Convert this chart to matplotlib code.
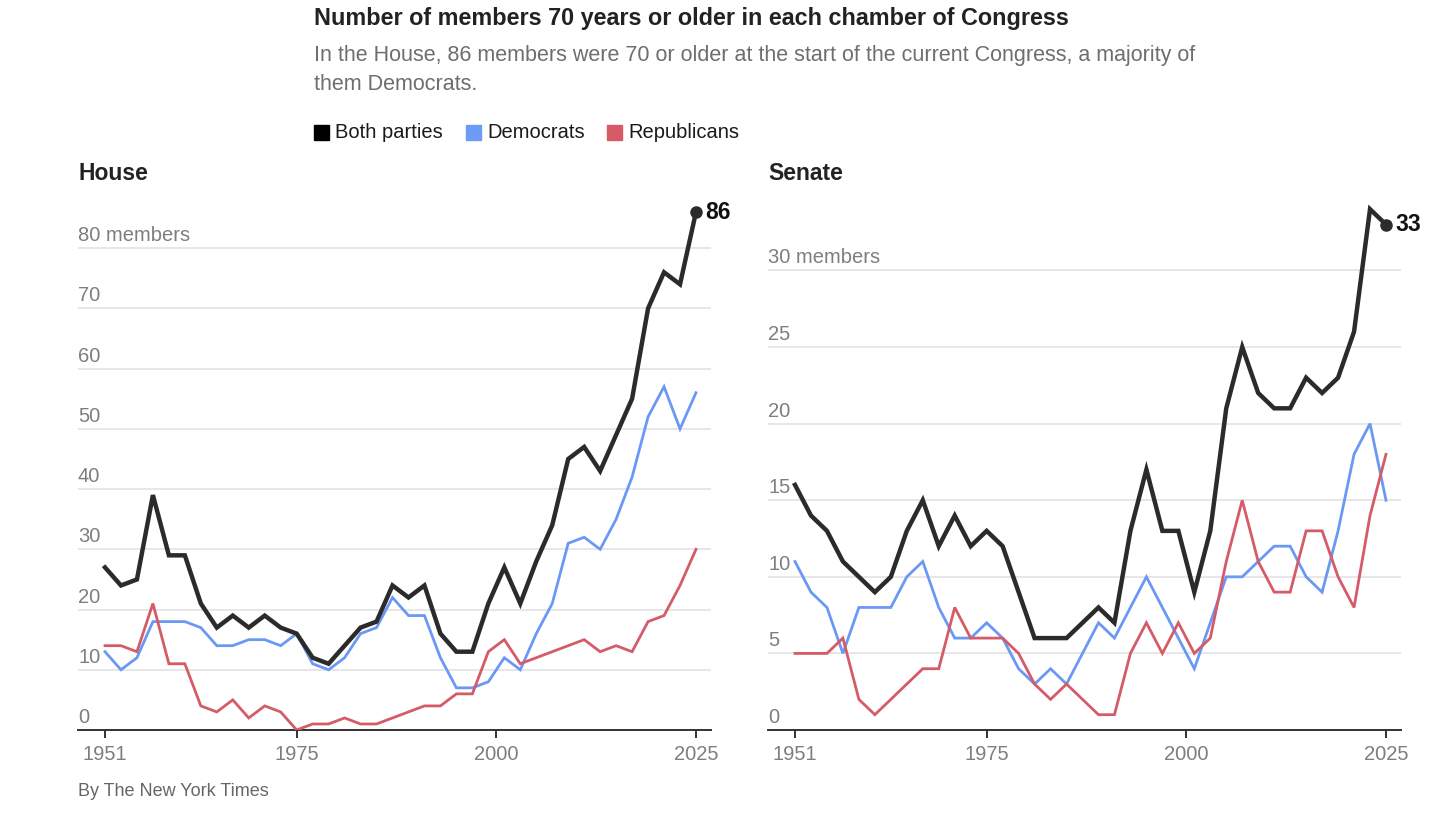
import matplotlib
matplotlib.use("Agg")
import matplotlib.pyplot as plt
import matplotlib.transforms as mtransforms
from matplotlib.patches import Rectangle

# Congress start years, one every two years
years = list(range(1951, 2026, 2))

houseBoth = [27, 24, 25, 39, 29, 29, 21, 17, 19, 17, 19, 17, 16, 12, 11, 14, 17, 18, 24, 22,
             24, 16, 13, 13, 21, 27, 21, 28, 34, 45, 47, 43, 49, 55, 70, 76, 74, 86]
houseDem = [13, 10, 12, 18, 18, 18, 17, 14, 14, 15, 15, 14, 16, 11, 10, 12, 16, 17, 22, 19,
            19, 12, 7, 7, 8, 12, 10, 16, 21, 31, 32, 30, 35, 42, 52, 57, 50, 56]
houseRep = [14, 14, 13, 21, 11, 11, 4, 3, 5, 2, 4, 3, 0, 1, 1, 2, 1, 1, 2, 3,
            4, 4, 6, 6, 13, 15, 11, 12, 13, 14, 15, 13, 14, 13, 18, 19, 24, 30]

senateBoth = [16, 14, 13, 11, 10, 9, 10, 13, 15, 12, 14, 12, 13, 12, 9, 6, 6, 6, 7, 8,
              7, 13, 17, 13, 13, 9, 13, 21, 25, 22, 21, 21, 23, 22, 23, 26, 34, 33]
senateDem = [11, 9, 8, 5, 8, 8, 8, 10, 11, 8, 6, 6, 7, 6, 4, 3, 4, 3, 5, 7,
             6, 8, 10, 8, 6, 4, 7, 10, 10, 11, 12, 12, 10, 9, 13, 18, 20, 15]
senateRep = [5, 5, 5, 6, 2, 1, 2, 3, 4, 4, 8, 6, 6, 6, 5, 3, 2, 3, 2, 1,
             1, 5, 7, 5, 7, 5, 6, 11, 15, 11, 9, 9, 13, 13, 10, 8, 14, 18]

houseTicks = [0, 10, 20, 30, 40, 50, 60, 70, 80]
senateTicks = [0, 5, 10, 15, 20, 25, 30]
yearTicks = [1951, 1975, 2000, 2025]

W, H = 1452, 832
BLACK = "#2b2b2b"
BLUE = "#6b98f5"
RED = "#d45b67"
GRID = "#e3e3e3"
TICKGRAY = "#7e7e7e"

plt.rcParams['font.family'] = ['Liberation Sans', 'DejaVu Sans']

fig = plt.figure(figsize=(W / 100, H / 100), dpi=100)
fig.patch.set_facecolor("white")


def px_axes(x0, x1, y_top, y_bottom):
    return fig.add_axes([x0 / W, 1 - y_bottom / H, (x1 - x0) / W, (y_bottom - y_top) / H])


def draw_panel(ax, both, dem, rep, ticks, ymax, unitsTick):
    ax.set_xlim(1947.62, 2026.88)
    ax.set_ylim(0, ymax)
    for s in ["top", "right", "left"]:
        ax.spines[s].set_visible(False)
    ax.spines["bottom"].set_color("#333333")
    ax.spines["bottom"].set_linewidth(1.4)
    ax.set_yticks([])
    ax.set_xticks(yearTicks)
    ax.set_xticklabels([str(y) for y in yearTicks])
    ax.tick_params(axis="x", direction="out", length=6, width=1.4, color="#333333",
                   labelsize=14.5, labelcolor=TICKGRAY, pad=5)

    trans = mtransforms.blended_transform_factory(ax.transAxes, ax.transData)
    off = mtransforms.offset_copy(trans, fig=fig, x=0, y=3, units="dots")
    for t in ticks:
        if t > 0:
            ax.axhline(t, color=GRID, lw=1.2, zorder=1)
        label = f"{t} members" if t == unitsTick else str(t)
        ax.text(0, t, label, transform=off, ha="left", va="bottom",
                fontsize=14.5, color=TICKGRAY)

    ax.plot(years, dem, color=BLUE, lw=2.0, zorder=3, solid_joinstyle="miter")
    ax.plot(years, rep, color=RED, lw=2.0, zorder=3, solid_joinstyle="miter")
    ax.plot(years, both, color=BLACK, lw=3.2, zorder=4, solid_joinstyle="miter")
    ax.plot([years[-1]], [both[-1]], "o", color=BLACK, ms=8, zorder=5)
    ax.annotate(str(both[-1]), (years[-1], both[-1]), xytext=(7, 0), textcoords="offset points",
                ha="left", va="center", fontsize=16.5, fontweight="bold", color="#111111",
                annotation_clip=False)


axH = px_axes(78, 711, 200, 730)
draw_panel(axH, houseBoth, houseDem, houseRep, houseTicks, 88, 80)
axS = px_axes(768, 1401, 200, 730)
draw_panel(axS, senateBoth, senateDem, senateRep, senateTicks, 34.6, 30)

fig.text(78 / W, 1 - 174 / H, "House", ha="left", va="center", fontsize=16.5,
         fontweight="bold", color="#222222")
fig.text(768 / W, 1 - 174 / H, "Senate", ha="left", va="center", fontsize=16.5,
         fontweight="bold", color="#222222")

narrow = ['Liberation Sans Narrow', 'Liberation Sans', 'DejaVu Sans']
fig.text(314 / W, 1 - 19 / H, "Number of members 70 years or older in each chamber of Congress",
         ha="left", va="center", fontsize=16.8, fontweight="bold", color="#222222", family=narrow)
fig.text(314 / W, 1 - 56 / H,
         "In the House, 86 members were 70 or older at the start of the current Congress, a majority of",
         ha="left", va="center", fontsize=15.5, color="#6e6e6e", family=narrow)
fig.text(314 / W, 1 - 85 / H, "them Democrats.",
         ha="left", va="center", fontsize=15.5, color="#6e6e6e", family=narrow)

# legend
legend = [("Both parties", "#000000", 314), ("Democrats", "#6d9bf7", 466), ("Republicans", "#d75b65", 607)]
for name, col, x in legend:
    fig.patches.append(Rectangle((x / W, 1 - 140 / H), 15 / W, 15 / H, color=col,
                                 transform=fig.transFigure, figure=fig))
    fig.text((x + 21) / W, 1 - 132 / H, name, ha="left", va="center", fontsize=14.5,
             color="#1a1a1a")

fig.text(78 / W, 1 - 792 / H, "By The New York Times", ha="left", va="center",
         fontsize=13, color="#666666", family=narrow)

fig.savefig("out.png", dpi=100, facecolor="white")
